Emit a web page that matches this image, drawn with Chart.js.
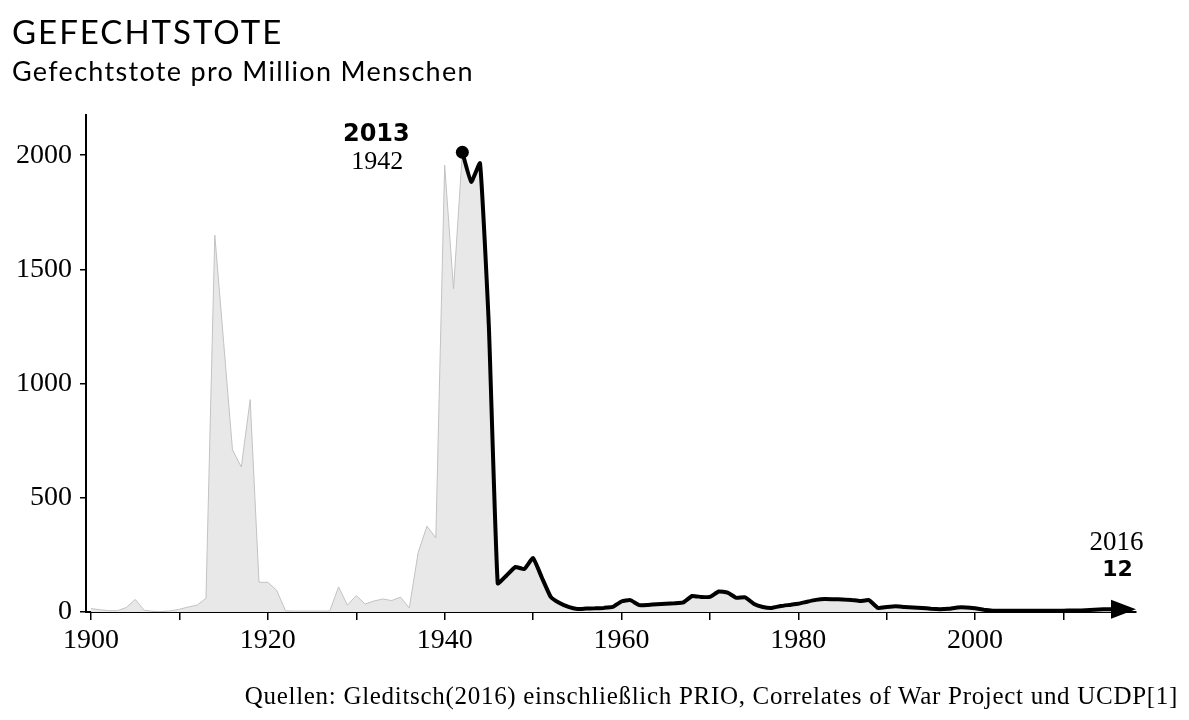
<!DOCTYPE html>
<html>
<head>
<meta charset="utf-8">
<script src="https://cdn.jsdelivr.net/npm/chart.js@4.4.1/dist/chart.umd.min.js"></script>
<style>
  body { margin: 0; background: #fff; }
  #wrap { position: relative; width: 1189px; height: 720px; }
  #title { position: absolute; left: 12px; top: 15px; font: 33px Lato, sans-serif; letter-spacing: 2px; line-height: 1; color: #000; }
  #subtitle { position: absolute; left: 12px; top: 57px; font: 27px Lato, sans-serif; letter-spacing: 1.3px; line-height: 1; color: #000; }
  #source { position: absolute; right: 11px; top: 683px; font: 25px "Liberation Serif", serif; letter-spacing: 0.7px; line-height: 1; color: #000; }
</style>
</head>
<body>
<div id="wrap">
  <canvas id="battle_chart" width="1189" height="720"></canvas>
  <div id="title">GEFECHTSTOTE</div>
  <div id="subtitle">Gefechtstote pro Million Menschen</div>
  <div id="source">Quellen: Gleditsch(2016) einschließlich PRIO, Correlates of War Project und UCDP[1]</div>
</div>
<script>
// years 1900 - 2016
var years = [];
for (var yr = 1900; yr <= 2016; yr++) years.push(yr);

// battle deaths per million people, one value per year
var deaths = [
  15, 10, 6, 6, 20, 55, 8, 3, 2, 5,                 // 1900s
  12, 22, 30, 60, 1650, 1180, 710, 635, 930, 130,   // 1910s
  130, 95, 5, 4, 4, 4, 4, 4, 110, 30,               // 1920s
  72, 35, 48, 57, 50, 65, 18, 260, 376, 324,        // 1930s
  1957, 1414, 2013, 1883, 1965, 1250, 125, 160, 197, 188, // 1940s
  236, 150, 66, 39, 22, 13, 15, 16, 18, 22,         // 1950s
  46, 52, 30, 31, 34, 36, 38, 42, 70, 66,           // 1960s
  66, 90, 85, 62, 64, 35, 22, 18, 26, 31,           // 1970s
  36, 45, 53, 57, 56, 55, 53, 48, 52, 18,           // 1980s
  22, 25, 22, 20, 18, 14, 12, 14, 20, 20,           // 1990s
  16, 10, 6, 5, 5, 5, 5, 5, 5, 5,                   // 2000s
  6, 7, 7, 9, 11, 12, 12                            // 2010-2016
];

var highlightFrom = 1942;   // black line starts here
var peakYear = 1942;
var lastYear = 2016;

var yTicks = [0, 500, 1000, 1500, 2000];

var areaPoints = years.map(function (y, i) { return { x: y, y: deaths[i] }; });
var linePoints = years.filter(function (y) { return y >= highlightFrom; })
  .map(function (y) { return { x: y, y: deaths[years.indexOf(y)] }; });

// labels at the start and end of the black line, plus the arrow head
var notesPlugin = {
  id: 'notes',
  afterDatasetsDraw: function (chart) {
    var ctx = chart.ctx;
    var meta = chart.getDatasetMeta(1);
    var first = meta.data[0];
    var last = meta.data[meta.data.length - 1];
    var tip = chart.chartArea.right;

    ctx.save();
    ctx.fillStyle = '#000';
    ctx.strokeStyle = '#000';
    ctx.lineWidth = 4;
    ctx.beginPath();
    ctx.moveTo(last.x, last.y);
    ctx.lineTo(tip - 20, last.y);
    ctx.stroke();
    ctx.beginPath();
    ctx.moveTo(tip, last.y);
    ctx.lineTo(tip - 25, last.y - 9.5);
    ctx.lineTo(tip - 25, last.y + 9.5);
    ctx.closePath();
    ctx.fill();

    ctx.textAlign = 'center';
    ctx.textBaseline = 'middle';
    var peakVal = deaths[years.indexOf(peakYear)];
    ctx.font = 'bold 24px "DejaVu Sans", sans-serif';
    ctx.fillText(String(peakVal), first.x - 86, first.y - 17);
    ctx.font = '26px "Liberation Serif", serif';
    ctx.fillText(String(peakYear), first.x - 85, first.y + 10);

    var lastVal = deaths[years.indexOf(lastYear)];
    ctx.font = '27px "Liberation Serif", serif';
    ctx.fillText(String(lastYear), last.x, last.y - 66);
    ctx.font = 'bold 22px "DejaVu Sans", sans-serif';
    ctx.fillText(String(lastVal), last.x + 1, last.y - 39);
    ctx.restore();
  }
};

var tickFont = { family: '"Liberation Serif", serif', size: 28 };

new Chart(document.getElementById('battle_chart').getContext('2d'), {
  type: 'line',
  data: {
    datasets: [{
      data: areaPoints,
      order: 2,
      fill: 'origin',
      backgroundColor: '#e8e8e8',
      borderColor: '#c2c2c2',
      borderWidth: 1,
      pointRadius: 0,
      tension: 0
    }, {
      data: linePoints,
      order: 1,
      fill: false,
      borderColor: '#000',
      borderWidth: 4,
      borderJoinStyle: 'round',
      tension: 0.12,
      pointRadius: linePoints.map(function (p, i) { return i === 0 ? 6.5 : 0; }),
      pointBackgroundColor: '#000',
      pointBorderWidth: 0
    }]
  },
  options: {
    responsive: false,
    animation: false,
    layout: { padding: { left: 12, right: 53, top: 115, bottom: 58 } },
    plugins: { legend: { display: false }, tooltip: { enabled: false } },
    scales: {
      x: {
        type: 'linear',
        min: 1899.43,
        max: 2018.2,
        border: { color: '#000', width: 2 },
        grid: { drawOnChartArea: false, color: '#000', lineWidth: 1.5, tickLength: 8 },
        ticks: {
          stepSize: 10,
          includeBounds: false,
          autoSkip: false,
          maxRotation: 0,
          padding: 4,
          color: '#000',
          font: tickFont,
          callback: function (v) { return v % 20 === 0 ? String(v) : ''; }
        },
        afterFit: function (s) { s.height = 50; s.paddingLeft = 0; s.paddingRight = 0; }
      },
      y: {
        min: 0,
        max: 2176,
        border: { color: '#000', width: 2 },
        grid: { drawOnChartArea: false, color: '#000', lineWidth: 1.5, tickLength: 6 },
        afterBuildTicks: function (s) { s.ticks = yTicks.map(function (v) { return { value: v }; }); },
        ticks: {
          includeBounds: false,
          padding: 8,
          color: '#000',
          font: tickFont,
          callback: function (v) { return String(v); }
        },
        afterFit: function (s) { s.width = 74; s.paddingTop = 0; s.paddingBottom = 0; }
      }
    }
  },
  plugins: [notesPlugin]
});
</script>
</body>
</html>
